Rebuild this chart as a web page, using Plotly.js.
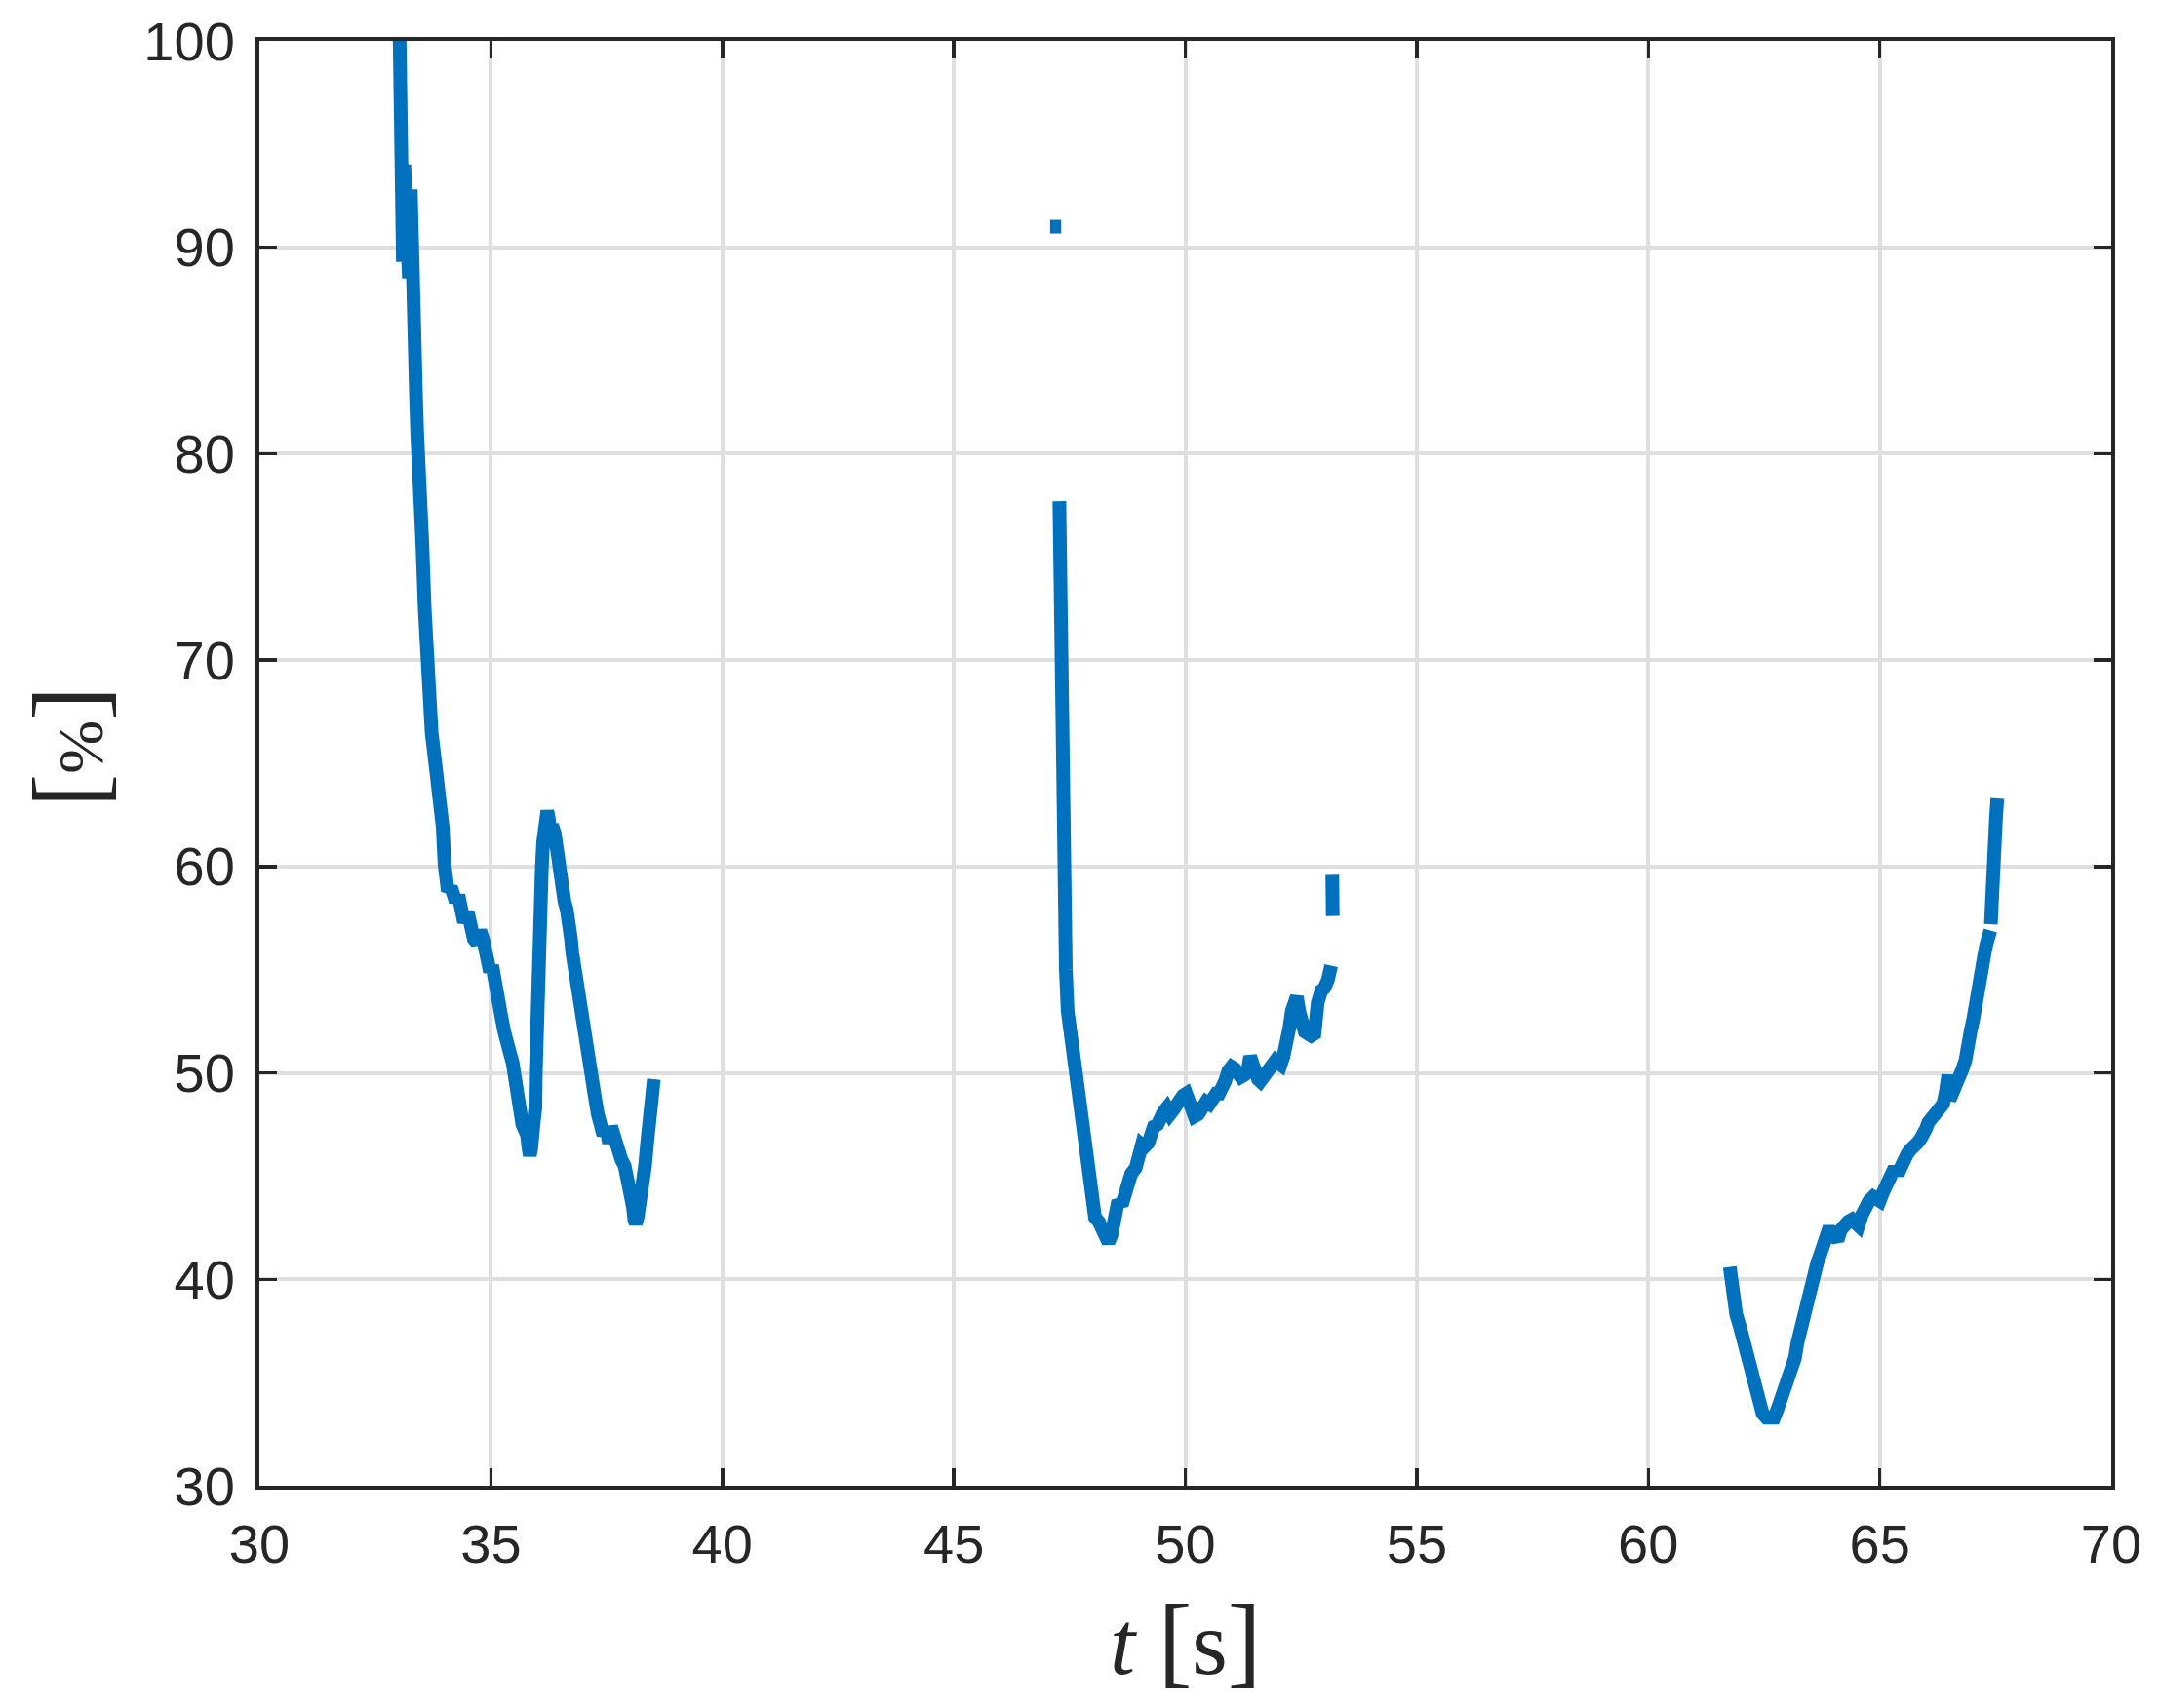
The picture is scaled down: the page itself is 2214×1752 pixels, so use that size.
<!DOCTYPE html>
<html>
<head>
<meta charset="utf-8">
<script src="https://cdn.plot.ly/plotly-3.0.1.min.js"></script>
<style>html,body{margin:0;padding:0;background:#fff;}#chart{width:2214px;height:1752px;}</style>
</head>
<body>
<div id="chart"></div>
<script>
// ---- data ----
const t1 = [33.03,33.03,33.05,33.08,33.10,33.13,33.16,33.20,33.23,33.27,33.29,33.32,33.35,33.38,33.41,33.47,33.52,33.57,33.63,33.72,33.80,33.89,33.96,34.00,34.04,34.07,34.14,34.20,34.24,34.30,34.36,34.42,34.50,34.56,34.63,34.70,34.77,34.84,34.90,34.98,35.03,35.08,35.15,35.22,35.29,35.36,35.42,35.47,35.52,35.57,35.62,35.68,35.74,35.78,35.81,35.84,35.87,35.92,35.96,35.97,35.98,36.01,36.03,36.06,36.10,36.13,36.17,36.22,36.26,36.28,36.32,36.38,36.43,36.48,36.53,36.59,36.64,36.69,36.73,36.76,36.82,36.87,36.92,36.97,37.01,37.04,37.10,37.15,37.20,37.25,37.31,37.36,37.43,37.50,37.55,37.60,37.64,37.70,37.75,37.82,37.89,37.96,38.03,38.07,38.10,38.13,38.17,38.22,38.27,38.33,38.38,38.43,38.48,38.50,38.52];
const v1 = [100,94.5,89.6,93.9,89.3,94.0,88.8,93.6,88.5,92.8,88.0,87.5,85.5,83.0,80.9,78.8,75.6,72.5,69.1,66.5,65.0,63.4,61.9,60.1,59.2,58.8,59.0,58.4,58.3,58.6,57.8,57.3,57.8,56.9,56.5,56.3,56.9,56.4,55.6,54.9,55.2,54.3,53.3,52.8,52.0,51.6,50.9,50.5,49.5,48.6,48.2,47.5,47.2,47.0,46.4,46.0,46.3,47.5,48.3,50.0,51.6,54.0,55.8,58.0,59.9,61.2,62.4,62.7,62.2,61.4,62.0,61.6,60.6,59.9,59.0,58.3,57.9,57.4,56.5,55.8,54.8,53.9,53.6,53.3,52.3,51.6,50.8,50.1,49.5,48.8,48.0,47.5,47.0,47.3,46.6,47.4,47.0,46.3,46.0,45.8,45.5,44.8,44.5,43.5,42.9,42.7,43.0,43.6,44.2,45.5,46.7,47.5,48.3,49.0,49.7];

const t2 = [47.08,47.32];
const v2 = [91.0,91.0];

const t3 = [47.28,47.29,47.30,47.31,47.32,47.33,47.34,47.36,47.39,47.42,47.46,47.50,47.56,47.62,47.67,47.72,47.77,47.82,47.88,47.93,47.98,48.05,48.13,48.20,48.28,48.34,48.40,48.47,48.55,48.63,48.70,48.76,48.83,48.93,49.00,49.06,49.11,49.20,49.26,49.32,49.40,49.46,49.53,49.60,49.67,49.74,49.82,49.88,49.95,50.02,50.09,50.15,50.20,50.28,50.37,50.45,50.52,50.58,50.67,50.73,50.79,50.86,50.93,51.00,51.07,51.15,51.20,51.28,51.35,51.40,51.43,51.48,51.57,51.62,51.68,51.74,51.80,51.88,51.95,52.00,52.06,52.12,52.20,52.25,52.30,52.35,52.41,52.46,52.51,52.58,52.65,52.72,52.79,52.81,52.86,52.94,53.00,53.08,53.12,53.15];
const v3 = [77.7,75.0,72.9,70.0,67.3,64.5,61.7,59.5,57.0,55.0,53.0,52.3,51.4,50.6,49.7,48.5,47.4,46.2,45.1,44.2,43.4,43.0,42.8,42.5,42.0,41.8,42.1,42.9,43.8,43.6,44.2,44.4,45.1,45.4,45.8,46.5,46.4,46.6,47.4,47.4,47.5,48.0,48.1,48.3,48.0,48.2,48.6,48.5,48.9,49.0,48.6,48.2,47.9,48.0,48.4,48.6,48.5,48.9,49.0,49.0,49.2,49.6,50.1,50.3,50.2,49.9,49.8,49.9,50.1,50.8,50.6,49.9,49.7,49.6,49.8,49.9,50.2,50.6,50.6,50.5,50.4,50.8,51.4,52.2,53.0,53.5,53.7,53.0,52.2,52.0,51.9,51.8,51.9,52.8,53.4,54.0,54.1,54.5,54.8,55.2];

const t4 = [53.175,53.185];
const v4 = [59.6,57.6];

const t5 = [61.76,61.80,61.84,61.90,61.98,62.05,62.12,62.20,62.26,62.32,62.37,62.42,62.47,62.55,62.65,62.72,62.79,62.86,62.93,63.00,63.07,63.12,63.17,63.22,63.28,63.33,63.38,63.44,63.49,63.55,63.60,63.65,63.70,63.76,63.81,63.88,63.95,64.02,64.09,64.16,64.23,64.32,64.40,64.47,64.54,64.61,64.68,64.77,64.86,64.93,65.00,65.07,65.14,65.20,65.25,65.32,65.39,65.46,65.53,65.60,65.67,65.74,65.81,65.88,65.95,66.00,66.05,66.14,66.23,66.30,66.37,66.42,66.45,66.48,66.51,66.58,66.65,66.72,66.79,66.85,66.90,66.94,66.97,67.02,67.07,67.12,67.18,67.22,67.25,67.30,67.35,67.39];
const v5 = [40.6,39.6,38.8,38.3,37.7,37.1,36.5,35.8,35.2,34.7,34.1,33.7,33.5,33.3,33.2,33.3,33.7,34.1,34.6,34.9,35.2,35.7,36.2,36.9,37.5,38.2,38.8,39.2,39.4,39.9,40.3,40.8,41.1,41.5,41.9,42.3,42.3,42.0,41.9,42.4,42.7,42.8,42.9,42.8,42.6,43.1,43.5,43.8,44.0,43.9,43.8,44.2,44.6,45.1,45.4,45.4,45.1,45.6,45.9,46.1,46.3,46.4,46.6,46.8,47.0,47.3,47.6,47.8,48.1,48.3,48.5,49.0,49.8,49.9,48.7,49.0,49.3,49.7,50.2,50.6,51.0,51.6,52.1,52.6,53.1,53.8,54.6,55.1,55.6,56.2,56.6,56.9];

const t6 = [67.40,67.41,67.44,67.46,67.48,67.51,67.54];
const v6 = [57.2,58.5,59.9,60.6,61.3,62.3,63.3];

const xTicks = [30,35,40,45,50,55,60,65,70];
const yTicks = [30,40,50,60,70,80,90,100];

// ---- chart ----
const lineColor = '#0072BD';
const segs = [[t1,v1],[t2,v2],[t3,v3],[t4,v4],[t5,v5],[t6,v6]];
const traces = segs.map(s => ({
  x: s[0], y: s[1], type: 'scatter', mode: 'lines',
  line: {color: lineColor, width: 14}, showlegend: false, hoverinfo: 'skip'
}));

const axisCommon = {
  showline: true, linecolor: '#262626', linewidth: 4, mirror: 'allticks',
  ticks: 'inside', ticklen: 18, tickwidth: 3.5, tickcolor: '#262626',
  showgrid: true, gridcolor: '#dfdfdf', gridwidth: 4, zeroline: false,
  tickfont: {family: 'Liberation Sans, Arial, sans-serif', size: 56, color: '#262626'},
  fixedrange: true
};

const layout = {
  width: 2214, height: 1752,
  margin: {l: 265.5, r: 49, t: 42, b: 228, pad: 0},
  paper_bgcolor: '#ffffff', plot_bgcolor: '#ffffff',
  xaxis: Object.assign({}, axisCommon, {range: [30,70], tickvals: xTicks, ticktext: xTicks.map(String), ticklabelstandoff: 8}),
  yaxis: Object.assign({}, axisCommon, {range: [30,100], tickvals: yTicks, ticktext: yTicks.map(String), ticklabelstandoff: 10}),
  annotations: [
    {text: '<i>t</i> <span style="font-size:104px">[</span>s<span style="font-size:104px">]</span>', xref: 'paper', yref: 'paper', x: 0.5, y: -0.106, xanchor: 'center', yanchor: 'middle',
     showarrow: false, font: {family: 'Liberation Serif, Times New Roman, serif', size: 94, color: '#262626'}},
    {text: '[<span style="font-size:66px">%</span>]', xref: 'paper', yref: 'paper', x: -0.1034, y: 0.511, xanchor: 'center', yanchor: 'middle', textangle: -90,
     showarrow: false, font: {family: 'Liberation Serif, Times New Roman, serif', size: 104, color: '#262626'}}
  ]
};

Plotly.newPlot('chart', traces, layout, {staticPlot: true, displayModeBar: false});
</script>
</body>
</html>
